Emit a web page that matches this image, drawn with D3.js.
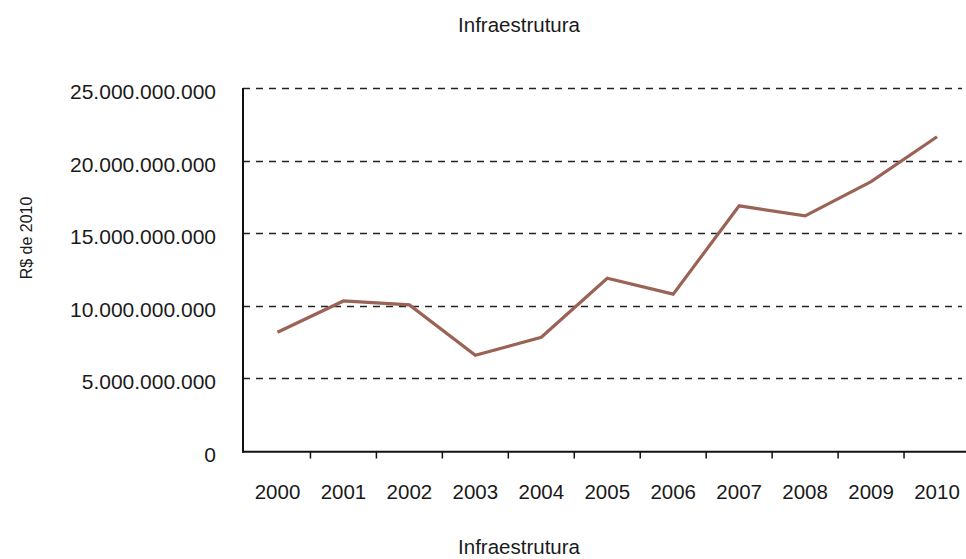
<!DOCTYPE html>
<html>
<head>
<meta charset="utf-8">
<script src="https://cdn.jsdelivr.net/npm/d3@7/dist/d3.min.js"></script>
<style>
  html, body { margin: 0; padding: 0; background: #fff; }
  svg { display: block; font-family: "Liberation Sans", Arial, sans-serif; }
</style>
</head>
<body>
<svg id="chart" width="966" height="559"></svg>
<script>
const years = ["2000","2001","2002","2003","2004","2005","2006","2007","2008","2009","2010"];
const values = [8.19e9, 10.34e9, 10.07e9, 6.60e9, 7.84e9, 11.91e9, 10.81e9, 16.90e9, 16.21e9, 18.57e9, 21.66e9];
const yTicks = [0, 5e9, 10e9, 15e9, 20e9, 25e9];
const titleText = "Infraestrutura";
const xTitleText = "Infraestrutura";
const yTitleText = "R$ de 2010";

const svg = d3.select("#chart");
const axisX = 243, plotRight = 962;
const x = d3.scaleBand().domain(years).range([244.5, 970]).padding(0);
const y = d3.scaleLinear().domain([0, 25e9]).range([451, 88.3]);

const loc = d3.formatLocale({decimal: ",", thousands: ".", grouping: [3], currency: ["R$", ""]});
const fmt = loc.format(",");

// gridlines
svg.append("g").selectAll("line").data(yTicks.filter(d => d > 0)).join("line")
  .attr("x1", axisX).attr("x2", plotRight)
  .attr("y1", d => Math.round(y(d)) + 0.5).attr("y2", d => Math.round(y(d)) + 0.5)
  .attr("stroke", "#222").attr("stroke-width", 1.3).attr("stroke-dasharray", "7,6");

// y tick labels
svg.append("g").selectAll("text").data(yTicks).join("text")
  .attr("x", 216).attr("y", d => y(d) + 11)
  .attr("text-anchor", "end").attr("font-size", 21).attr("fill", "#1a1a1a")
  .text(d => fmt(d));

// y axis line
svg.append("line").attr("x1", axisX).attr("x2", axisX).attr("y1", 88).attr("y2", 452.5)
  .attr("stroke", "#111").attr("stroke-width", 2);
// x axis line
svg.append("line").attr("x1", axisX - 1).attr("x2", 966).attr("y1", 451.8).attr("y2", 451.8)
  .attr("stroke", "#111").attr("stroke-width", 2);

// x ticks at band boundaries
svg.append("g").selectAll("line").data(years).join("line")
  .attr("x1", d => x(d) + x.bandwidth()).attr("x2", d => x(d) + x.bandwidth())
  .attr("y1", 452).attr("y2", 458.5)
  .attr("stroke", "#111").attr("stroke-width", 1.5);

// x labels
svg.append("g").selectAll("text").data(years).join("text")
  .attr("x", d => x(d) + x.bandwidth() / 2).attr("y", 498.5)
  .attr("text-anchor", "middle").attr("font-size", 20.5).attr("fill", "#1a1a1a")
  .text(d => d);

// line
const line = d3.line().x((d, i) => x(years[i]) + x.bandwidth() / 2).y(d => y(d));
svg.append("path").datum(values).attr("d", line)
  .attr("fill", "none").attr("stroke", "#9A6356").attr("stroke-width", 3.2)
  .attr("stroke-linejoin", "miter");

// titles
svg.append("text").attr("x", 519).attr("y", 31.5).attr("text-anchor", "middle")
  .attr("font-size", 20.5).attr("fill", "#1a1a1a").text(titleText);
svg.append("text").attr("x", 519).attr("y", 554).attr("text-anchor", "middle")
  .attr("font-size", 20.5).attr("fill", "#1a1a1a").text(xTitleText);
svg.append("text").attr("transform", "translate(32,238) rotate(-90)").attr("text-anchor", "middle")
  .attr("font-size", 16).attr("fill", "#1a1a1a").text(yTitleText);
</script>
</body>
</html>
